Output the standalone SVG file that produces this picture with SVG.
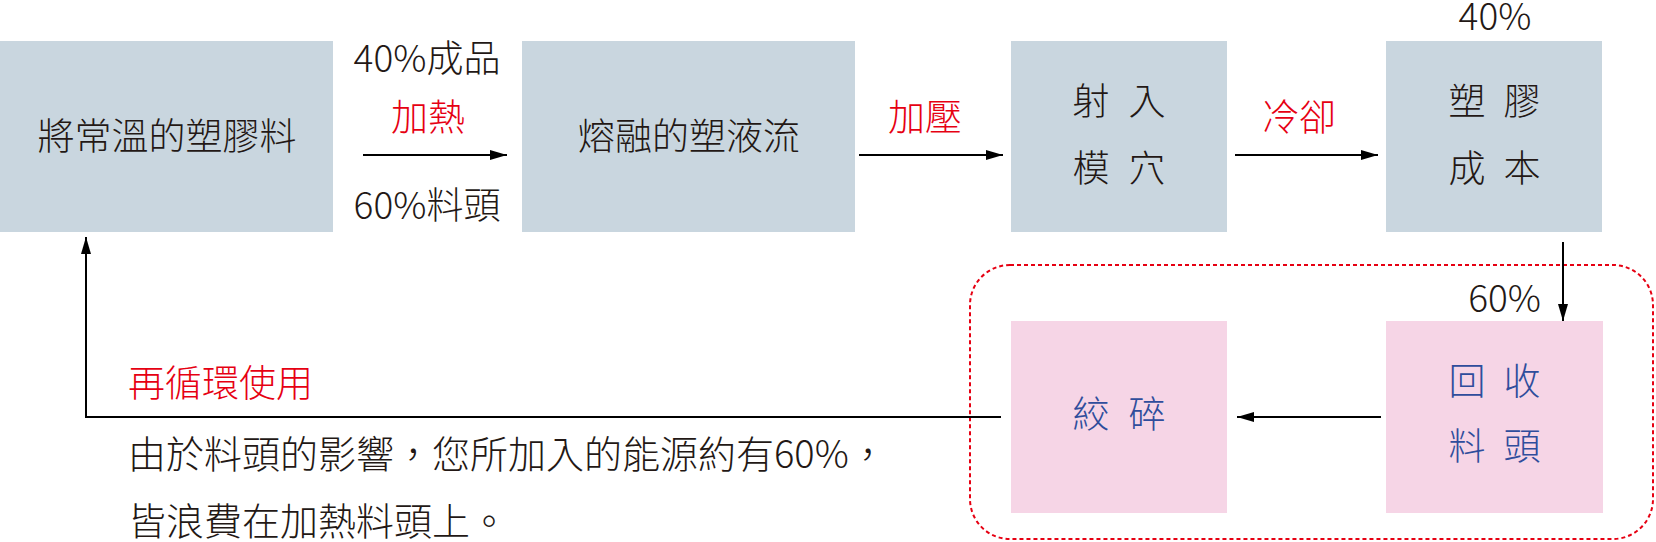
<svg xmlns="http://www.w3.org/2000/svg" width="1656" height="542" viewBox="0 0 1656 542" xml:lang="zh-Hant-TW" lang="zh-Hant-TW">
<style>
text { font-family: "Noto Sans CJK TC", "Noto Sans CJK SC", "Noto Sans", sans-serif; font-weight: 300; }
.box { fill: #c9d6df; }
.pink { fill: #f6d5e6; }
.t { font-size: 37px; fill: #231815; text-anchor: middle; }
.b { font-size: 37px; fill: #2f4d9c; text-anchor: middle; }
.red { font-size: 37px; fill: #e60012; text-anchor: middle; }
.body { font-size: 38px; fill: #231815; }
.conn { stroke: #000; stroke-width: 2; fill: none; }
</style>
<defs>
<marker id="ah" markerUnits="userSpaceOnUse" markerWidth="18" markerHeight="11" refX="17" refY="5" orient="auto">
<path d="M0,0 L17,5 L0,10 z" fill="#000"/>
</marker>
</defs>

<rect x="970" y="265" width="683" height="274" rx="40" ry="40" fill="none" stroke="#e60012" stroke-width="2" stroke-dasharray="4 3"/>

<g id="node-raw">
<rect class="box" x="0" y="41" width="333" height="191"/>
<text class="t" x="167" y="150">將常溫的塑膠料</text>
</g>
<g id="node-melt">
<rect class="box" x="522" y="41" width="333" height="191"/>
<text class="t" x="689" y="150">熔融的塑液流</text>
</g>
<g id="node-inject">
<rect class="box" x="1011" y="41" width="216" height="191"/>
<text class="t" x="1091" y="115">射</text><text class="t" x="1147" y="115">入</text>
<text class="t" x="1091" y="182">模</text><text class="t" x="1147" y="182">穴</text>
</g>
<g id="node-product">
<rect class="box" x="1386" y="41" width="216" height="191"/>
<text class="t" x="1467" y="115">塑</text><text class="t" x="1522" y="115">膠</text>
<text class="t" x="1467" y="182">成</text><text class="t" x="1522" y="182">本</text>
</g>
<g id="node-crush">
<rect class="pink" x="1011" y="321" width="216" height="192"/>
<text class="b" x="1091" y="428">絞</text><text class="b" x="1147" y="428">碎</text>
</g>
<g id="node-recycle">
<rect class="pink" x="1386" y="321" width="217" height="192"/>
<text class="b" x="1467" y="395">回</text><text class="b" x="1522" y="395">收</text>
<text class="b" x="1467" y="460">料</text><text class="b" x="1522" y="460">頭</text>
</g>

<g id="connectors">
<line class="conn" x1="363" y1="155" x2="507" y2="155" marker-end="url(#ah)"/>
<line class="conn" x1="859" y1="155" x2="1003" y2="155" marker-end="url(#ah)"/>
<line class="conn" x1="1235" y1="155" x2="1378" y2="155" marker-end="url(#ah)"/>
<line class="conn" x1="1563" y1="242" x2="1563" y2="321" marker-end="url(#ah)"/>
<line class="conn" x1="1381" y1="417" x2="1237" y2="417" marker-end="url(#ah)"/>
<polyline class="conn" points="1001,417 86,417 86,237" marker-end="url(#ah)"/>
</g>

<g id="labels">
<text class="t" x="427" y="72">40%成品</text>
<text class="red" x="428" y="131">加熱</text>
<text class="t" x="427" y="219">60%料頭</text>
<text class="red" x="925" y="131">加壓</text>
<text class="red" x="1299" y="131">冷卻</text>
<text class="t" x="1495" y="30">40%</text>
<text class="t" x="1541" y="312" style="text-anchor:end">60%</text>
<text class="red" x="128" y="397" style="text-anchor:start">再循環使用</text>
<text class="body" x="128" y="468">由於料頭的影響，您所加入的能源約有60%，</text>
<text class="body" x="128" y="535">皆浪費在加熱料頭上。</text>
</g>
</svg>
